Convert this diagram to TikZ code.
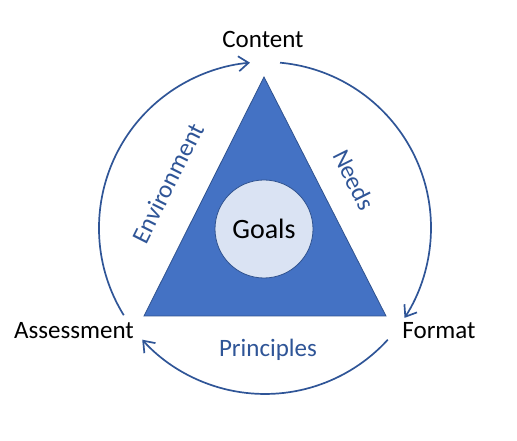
\documentclass[tikz,border=0pt]{standalone}
\usepackage{fontspec}
\setmainfont{Carlito}
\usetikzlibrary{arrows.meta}
\definecolor{triblue}{HTML}{4472C4}
\definecolor{edgeblue}{HTML}{2F528F}
\definecolor{txtblue}{HTML}{2F5597}
\definecolor{goalfill}{HTML}{DAE3F3}
\tikzset{
  lbl/.style={font=\fontsize{25}{29}\selectfont, anchor=base},
  side/.style={font=\fontsize{25}{29}\selectfont, text=txtblue},
  cyclearrow/.style={draw=txtblue, line width=1.7pt, -{Straight Barb[length=10pt,width=15pt]}}
}
\begin{document}
\begin{tikzpicture}[x=1pt, y=1pt]
	\useasboundingbox (0,0) rectangle (517,441);
	\coordinate (ctr) at (265,213);
	
	\coordinate (apex) at (264,364);
	\coordinate (bl) at (144,125);
	\coordinate (br) at (386,125);
	\filldraw[fill=triblue, draw=edgeblue, line width=0.8pt] (apex) -- (bl) -- (br) -- cycle;
	\node[circle, minimum size=98pt, inner sep=0pt, fill=goalfill, draw=edgeblue, line width=0.8pt,
		font=\fontsize{28}{31}\selectfont] (goals) at (264,212) {Goals};
	
	\node[lbl] (content) at (263,393) {Content};
	\node[lbl] (assess) at (74,102) {Assessment};
	\node[lbl] (format) at (439,102) {Format};
	
	\node[side, anchor=base] (princ) at (268,84) {Principles};
	\node[side, rotate=63.4] (env) at (168,258) {Environment};
	\node[side, rotate=-63.4] (needs) at (354,261) {Needs};
	
	\draw[cyclearrow] ([shift={(211.7:166)}]ctr) arc[start angle=211.7, end angle=95.2, radius=166];
	\draw[cyclearrow] ([shift={(84.8:166)}]ctr) arc[start angle=84.8, end angle=-32.8, radius=166];
	\draw[cyclearrow] ([shift={(-42.3:166)}]ctr) arc[start angle=-42.3, end angle=-137.7, radius=166];
\end{tikzpicture}
\end{document}
